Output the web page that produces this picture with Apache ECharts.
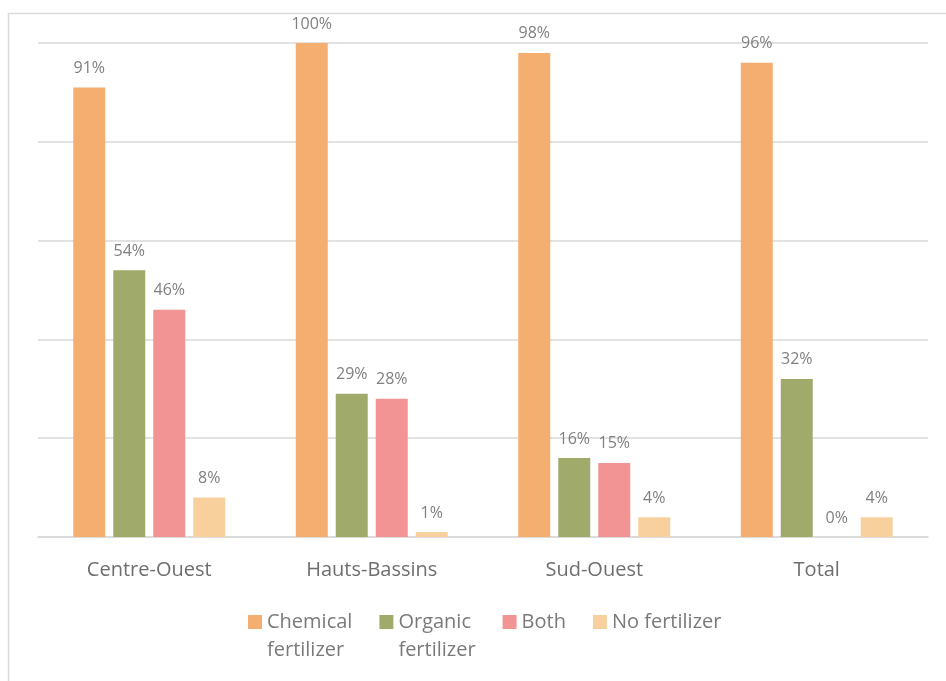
<!DOCTYPE html>
<html>
<head>
<meta charset="utf-8">
<script src="https://cdn.jsdelivr.net/npm/echarts@6/dist/echarts.min.js"></script>
<style>
html,body{margin:0;padding:0;background:#fff;}
#chart{width:946px;height:681px;}
</style>
</head>
<body>
<div id="chart"></div>
<script>
const categories = ['Centre-Ouest', 'Hauts-Bassins', 'Sud-Ouest', 'Total'];
const seriesNames = ['Chemical fertilizer', 'Organic fertilizer', 'Both', 'No fertilizer'];
const legendLabels = [' \nChemical\nfertilizer', ' \nOrganic\nfertilizer', 'Both', 'No fertilizer'];
const chemical = [91, 100, 98, 96];
const organic = [54, 29, 16, 32];
const both = [46, 28, 15, 0];
const noFertilizer = [8, 1, 4, 4];
const colors = ['#F4AE70', '#A0AA6B', '#F29494', '#F8D09E'];
const FONT = '"Open Sans", sans-serif';

const dataSets = [chemical, organic, both, noFertilizer];

const chart = echarts.init(document.getElementById('chart'));
chart.setOption({
  animation: false,
  backgroundColor: '#fff',
  graphic: [{
    type: 'rect',
    shape: { x: 8.5, y: 13.5, width: 1200, height: 1200 },
    style: { fill: 'none', stroke: '#d9d9d9', lineWidth: 1.5 },
    silent: true
  }],
  grid: { left: 38, right: 18, top: 43, bottom: 144 },
  legend: {
    left: 243,
    top: 575,
    itemWidth: 14,
    itemHeight: 14,
    itemGap: 27,
    icon: 'rect',
    textStyle: { fontFamily: FONT, fontSize: 20, color: '#7a7a7a', lineHeight: 28 },
    data: seriesNames,
    formatter: function (name) { return legendLabels[seriesNames.indexOf(name)]; }
  },
  xAxis: {
    type: 'category',
    data: categories,
    axisTick: { show: false },
    axisLine: { lineStyle: { color: '#d9d9d9', width: 1.5 } },
    axisLabel: { fontFamily: FONT, fontSize: 20, color: '#6e6e6e', margin: 23 }
  },
  yAxis: {
    type: 'value',
    min: 0,
    max: 100,
    interval: 20,
    axisLabel: { show: false },
    axisLine: { show: false },
    axisTick: { show: false },
    splitLine: { lineStyle: { color: '#d9d9d9', width: 1.5 } }
  },
  series: seriesNames.map((n, i) => ({
    name: n,
    type: 'bar',
    data: dataSets[i],
    barWidth: 32,
    barGap: '25%',
    itemStyle: { color: colors[i] },
    label: {
      show: true,
      position: 'top',
      distance: 11,
      formatter: '{c}%',
      fontFamily: FONT,
      fontSize: 16,
      color: '#808080'
    }
  }))
});
</script>
</body>
</html>
